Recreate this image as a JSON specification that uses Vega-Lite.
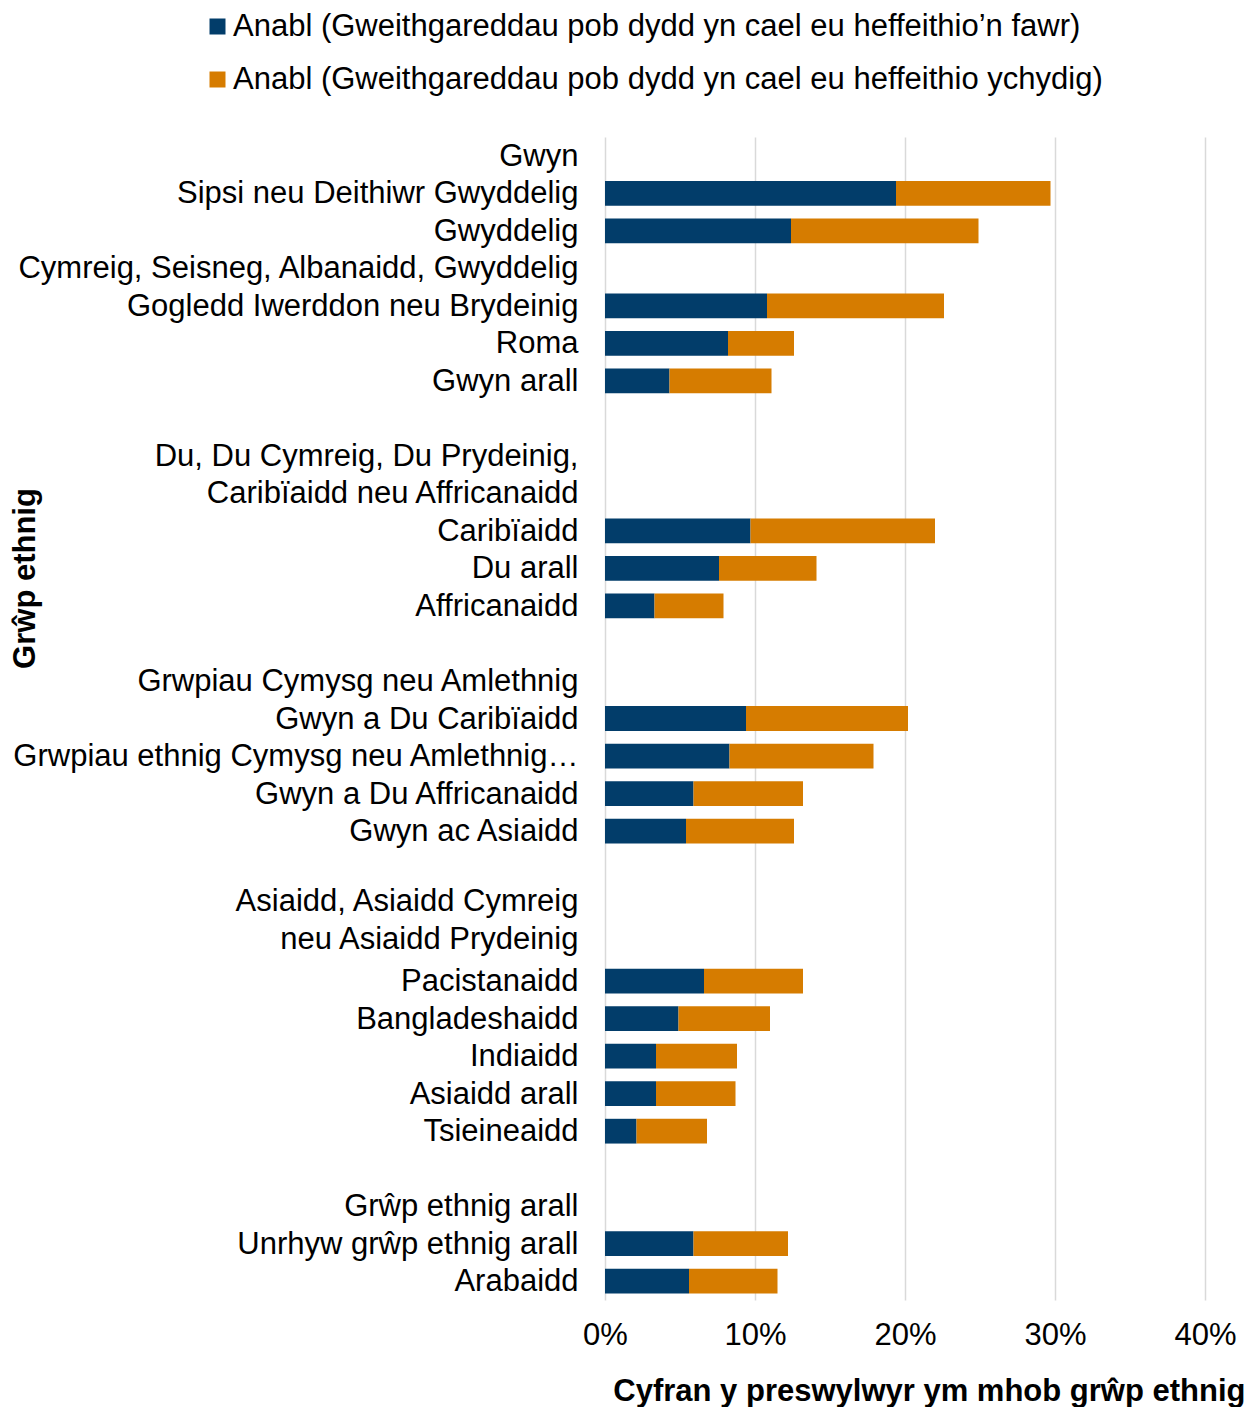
{
  "$schema": "https://vega.github.io/schema/vega-lite/v6.json",
  "autosize": "none",
  "padding": {"left": 605, "top": 137, "right": 42, "bottom": 107},
  "width": 600,
  "height": 1163,
  "background": "white",
  "config": {
    "view": {"stroke": null},
    "font": "Liberation Sans"
  },
  "data": {
    "values": [
      {"grwp": "Sipsi neu Deithiwr Gwyddelig", "series": "Anabl (Gweithgareddau pob dydd yn cael eu heffeithio’n fawr)", "value": 0.194},
      {"grwp": "Sipsi neu Deithiwr Gwyddelig", "series": "Anabl (Gweithgareddau pob dydd yn cael eu heffeithio ychydig)", "value": 0.103},
      {"grwp": "Gwyddelig", "series": "Anabl (Gweithgareddau pob dydd yn cael eu heffeithio’n fawr)", "value": 0.124},
      {"grwp": "Gwyddelig", "series": "Anabl (Gweithgareddau pob dydd yn cael eu heffeithio ychydig)", "value": 0.125},
      {"grwp": "Gogledd Iwerddon neu Brydeinig", "series": "Anabl (Gweithgareddau pob dydd yn cael eu heffeithio’n fawr)", "value": 0.108},
      {"grwp": "Gogledd Iwerddon neu Brydeinig", "series": "Anabl (Gweithgareddau pob dydd yn cael eu heffeithio ychydig)", "value": 0.118},
      {"grwp": "Roma", "series": "Anabl (Gweithgareddau pob dydd yn cael eu heffeithio’n fawr)", "value": 0.082},
      {"grwp": "Roma", "series": "Anabl (Gweithgareddau pob dydd yn cael eu heffeithio ychydig)", "value": 0.044},
      {"grwp": "Gwyn arall", "series": "Anabl (Gweithgareddau pob dydd yn cael eu heffeithio’n fawr)", "value": 0.043},
      {"grwp": "Gwyn arall", "series": "Anabl (Gweithgareddau pob dydd yn cael eu heffeithio ychydig)", "value": 0.068},
      {"grwp": "Caribïaidd", "series": "Anabl (Gweithgareddau pob dydd yn cael eu heffeithio’n fawr)", "value": 0.097},
      {"grwp": "Caribïaidd", "series": "Anabl (Gweithgareddau pob dydd yn cael eu heffeithio ychydig)", "value": 0.123},
      {"grwp": "Du arall", "series": "Anabl (Gweithgareddau pob dydd yn cael eu heffeithio’n fawr)", "value": 0.076},
      {"grwp": "Du arall", "series": "Anabl (Gweithgareddau pob dydd yn cael eu heffeithio ychydig)", "value": 0.065},
      {"grwp": "Affricanaidd", "series": "Anabl (Gweithgareddau pob dydd yn cael eu heffeithio’n fawr)", "value": 0.033},
      {"grwp": "Affricanaidd", "series": "Anabl (Gweithgareddau pob dydd yn cael eu heffeithio ychydig)", "value": 0.046},
      {"grwp": "Gwyn a Du Caribïaidd", "series": "Anabl (Gweithgareddau pob dydd yn cael eu heffeithio’n fawr)", "value": 0.094},
      {"grwp": "Gwyn a Du Caribïaidd", "series": "Anabl (Gweithgareddau pob dydd yn cael eu heffeithio ychydig)", "value": 0.108},
      {"grwp": "Grwpiau ethnig Cymysg neu Amlethnig…", "series": "Anabl (Gweithgareddau pob dydd yn cael eu heffeithio’n fawr)", "value": 0.083},
      {"grwp": "Grwpiau ethnig Cymysg neu Amlethnig…", "series": "Anabl (Gweithgareddau pob dydd yn cael eu heffeithio ychydig)", "value": 0.096},
      {"grwp": "Gwyn a Du Affricanaidd", "series": "Anabl (Gweithgareddau pob dydd yn cael eu heffeithio’n fawr)", "value": 0.059},
      {"grwp": "Gwyn a Du Affricanaidd", "series": "Anabl (Gweithgareddau pob dydd yn cael eu heffeithio ychydig)", "value": 0.073},
      {"grwp": "Gwyn ac Asiaidd", "series": "Anabl (Gweithgareddau pob dydd yn cael eu heffeithio’n fawr)", "value": 0.054},
      {"grwp": "Gwyn ac Asiaidd", "series": "Anabl (Gweithgareddau pob dydd yn cael eu heffeithio ychydig)", "value": 0.072},
      {"grwp": "Pacistanaidd", "series": "Anabl (Gweithgareddau pob dydd yn cael eu heffeithio’n fawr)", "value": 0.066},
      {"grwp": "Pacistanaidd", "series": "Anabl (Gweithgareddau pob dydd yn cael eu heffeithio ychydig)", "value": 0.066},
      {"grwp": "Bangladeshaidd", "series": "Anabl (Gweithgareddau pob dydd yn cael eu heffeithio’n fawr)", "value": 0.049},
      {"grwp": "Bangladeshaidd", "series": "Anabl (Gweithgareddau pob dydd yn cael eu heffeithio ychydig)", "value": 0.061},
      {"grwp": "Indiaidd", "series": "Anabl (Gweithgareddau pob dydd yn cael eu heffeithio’n fawr)", "value": 0.034},
      {"grwp": "Indiaidd", "series": "Anabl (Gweithgareddau pob dydd yn cael eu heffeithio ychydig)", "value": 0.054},
      {"grwp": "Asiaidd arall", "series": "Anabl (Gweithgareddau pob dydd yn cael eu heffeithio’n fawr)", "value": 0.034},
      {"grwp": "Asiaidd arall", "series": "Anabl (Gweithgareddau pob dydd yn cael eu heffeithio ychydig)", "value": 0.053},
      {"grwp": "Tsieineaidd", "series": "Anabl (Gweithgareddau pob dydd yn cael eu heffeithio’n fawr)", "value": 0.021},
      {"grwp": "Tsieineaidd", "series": "Anabl (Gweithgareddau pob dydd yn cael eu heffeithio ychydig)", "value": 0.047},
      {"grwp": "Unrhyw grŵp ethnig arall", "series": "Anabl (Gweithgareddau pob dydd yn cael eu heffeithio’n fawr)", "value": 0.059},
      {"grwp": "Unrhyw grŵp ethnig arall", "series": "Anabl (Gweithgareddau pob dydd yn cael eu heffeithio ychydig)", "value": 0.063},
      {"grwp": "Arabaidd", "series": "Anabl (Gweithgareddau pob dydd yn cael eu heffeithio’n fawr)", "value": 0.056},
      {"grwp": "Arabaidd", "series": "Anabl (Gweithgareddau pob dydd yn cael eu heffeithio ychydig)", "value": 0.059}
    ]
  },
  "mark": {"type": "bar"},
  "encoding": {
    "y": {
      "field": "grwp",
      "type": "nominal",
      "scale": {
        "domain": ["Gwyn", "Sipsi neu Deithiwr Gwyddelig", "Gwyddelig", "Cymreig, Seisneg, Albanaidd, Gwyddelig", "Gogledd Iwerddon neu Brydeinig", "Roma", "Gwyn arall", " ", "Du, Du Cymreig, Du Prydeinig,", "Caribïaidd neu Affricanaidd", "Caribïaidd", "Du arall", "Affricanaidd", "  ", "Grwpiau Cymysg neu Amlethnig", "Gwyn a Du Caribïaidd", "Grwpiau ethnig Cymysg neu Amlethnig…", "Gwyn a Du Affricanaidd", "Gwyn ac Asiaidd", "   ", "Asiaidd, Asiaidd Cymreig", "neu Asiaidd Prydeinig", "Pacistanaidd", "Bangladeshaidd", "Indiaidd", "Asiaidd arall", "Tsieineaidd", "    ", "Grŵp ethnig arall", "Unrhyw grŵp ethnig arall", "Arabaidd"],
        "paddingInner": 0.34,
        "paddingOuter": 0.17
      },
      "axis": {
        "title": "Grŵp ethnig",
        "titleFontSize": 31,
        "titleFontWeight": "bold",
        "titleColor": "black",
        "titleAngle": -90,
        "titleX": -580,
        "titleY": 441,
        "titleAlign": "center",
        "titleBaseline": "middle",
        "labelFontSize": 31,
        "labelColor": "black",
        "labelPadding": 27,
        "labelLimit": 700,
        "labelOffset": {"condition": {"test": "datum.value === 'Asiaidd, Asiaidd Cymreig' || datum.value === 'neu Asiaidd Prydeinig'", "value": -4}, "value": 1},
        "ticks": false,
        "domain": false,
        "grid": false
      }
    },
    "x": {
      "field": "value",
      "type": "quantitative",
      "stack": "zero",
      "scale": {"domain": [0, 0.4], "nice": false},
      "axis": {
        "title": "Cyfran y preswylwyr ym mhob grŵp ethnig",
        "titleFontSize": 31,
        "titleFontWeight": "bold",
        "titleColor": "black",
        "titleX": 640,
        "titleY": 100,
        "titleAlign": "right",
        "titleBaseline": "alphabetic",
        "values": [0, 0.1, 0.2, 0.3, 0.4],
        "format": ".0%",
        "labelFontSize": 31,
        "labelColor": "black",
        "labelPadding": 20,
        "labelFlush": false,
        "ticks": false,
        "domain": false,
        "grid": true,
        "gridColor": "#D9D9D9",
        "gridWidth": 1.5
      }
    },
    "color": {
      "field": "series",
      "type": "nominal",
      "scale": {
        "domain": ["Anabl (Gweithgareddau pob dydd yn cael eu heffeithio’n fawr)", "Anabl (Gweithgareddau pob dydd yn cael eu heffeithio ychydig)"],
        "range": ["#023D6A", "#D67C00"]
      },
      "legend": {
        "title": null,
        "orient": "none",
        "legendX": -403,
        "legendY": -126,
        "direction": "vertical",
        "symbolType": "square",
        "symbolSize": 256,
        "symbolStrokeWidth": 0,
        "labelFontSize": 31,
        "labelColor": "black",
        "labelOffset": 0,
        "labelLimit": 1000,
        "rowPadding": 21
      }
    },
    "order": {"field": "series", "sort": "descending"}
  }
}
